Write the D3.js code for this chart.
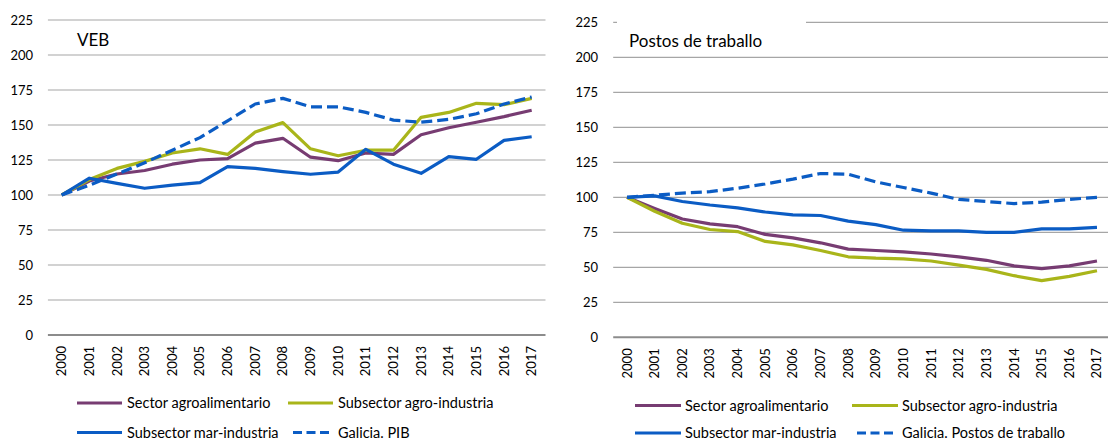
<!DOCTYPE html>
<html><head><meta charset="utf-8">
<script src="https://cdn.jsdelivr.net/npm/d3@7"></script>
<style>
html,body{margin:0;padding:0;background:#fff;}
svg{display:block;font-family:Lato,"Liberation Sans",sans-serif;}
</style></head>
<body><svg id="c" width="1108" height="441"></svg>
<script>
const years = ["2000","2001","2002","2003","2004","2005","2006","2007","2008","2009","2010","2011","2012","2013","2014","2015","2016","2017"];
const yTicks = [0,25,50,75,100,125,150,175,200,225];

// VEB
const vebSector   = [100,110,115,117.5,122,125,126,137,140.5,127,124.5,130,129,143,148,152,156,160.5];
const vebAgro     = [100,111,119,124,130,133,129,145,151.7,133,128,132,132,155.5,159,165.5,164.5,169];
const vebMar      = [100,112,108.3,104.8,107,108.8,120.2,119,116.7,114.8,116.4,132.6,122,115.5,127.4,125.5,139,141.6];
const vebGalicia  = [100,107,115,123,132,141,153,165,169,163,163,159,153.5,152,154,158,165,170];

// Postos de traballo
const posSector   = [100,92,84.5,81,79,73.5,71,67.5,63,62,61,59.5,57.5,55,51,49,51,54.5];
const posAgro     = [100,90,81.5,77,75.5,68.5,66,62,57.5,56.5,56,54.5,51.5,48.5,44,40.5,43.5,47.5];
const posMar      = [100,101,97,94.5,92.5,89.5,87.5,87,83,80.5,76.5,76,76,75,75,77.5,77.5,78.5];
const posGalicia  = [100,101.5,103,104,106.5,109.5,113,117,116.5,111,107,103,98.5,97,95.5,96.5,98.5,100];

const titles = ["VEB","Postos de traballo"];
const legendLeft  = ["Sector agroalimentario","Subsector agro-industria","Subsector mar-industria","Galicia. PIB"];
const legendRight = ["Sector agroalimentario","Subsector agro-industria","Subsector mar-industria","Galicia. Postos de traballo"];

const colors = ["#773C72","#A9B51A","#0B5CC4","#0B5CC4"];
const dashed = [false,false,false,true];

const svg = d3.select("#c");

function panel(cfg){
  const g = svg.append("g");
  const x = d3.scaleBand().domain(years).range([cfg.x0,cfg.x1]);
  const y = d3.scaleLinear().domain([0,225]).range([cfg.yb,cfg.yt]);
  const gx0 = cfg.x0, gx1 = Math.min(cfg.x1,1108);
  // gridlines
  g.selectAll("line.grid").data(yTicks.filter(d=>d>0)).enter().append("line")
    .attr("x1",gx0).attr("x2",gx1).attr("y1",d=>y(d)).attr("y2",d=>y(d))
    .attr("stroke","#A6A6A6").attr("stroke-width",1.2);
  // zero axis line
  g.append("line").attr("x1",gx0).attr("x2",gx1).attr("y1",y(0)).attr("y2",y(0))
    .attr("stroke","#8C8C8C").attr("stroke-width",2);
  // y labels
  g.selectAll("text.yl").data(yTicks).enter().append("text")
    .attr("x",cfg.ylx).attr("y",d=>y(d)).attr("dy","0.35em")
    .attr("text-anchor","end").attr("font-size",13).attr("fill","#000")
    .text(d=>d);
  // x labels
  g.selectAll("text.xl").data(years).enter().append("text")
    .attr("transform",d=>`translate(${x(d)+x.bandwidth()/2+4.5},${cfg.yb+11}) rotate(-90)`)
    .attr("text-anchor","end").attr("font-size",13).attr("fill","#000")
    .text(d=>d);
  // title box
  if(cfg.box){
    g.append("rect").attr("x",cfg.box[0]).attr("y",cfg.box[1]).attr("width",cfg.box[2]).attr("height",cfg.box[3]).attr("fill","#fff");
  }
  g.append("text").attr("x",cfg.tx).attr("y",cfg.ty).attr("font-size",17).attr("fill","#000").text(cfg.title);
  // lines
  const line = d3.line().x((d,i)=>x(years[i])+x.bandwidth()/2).y(d=>y(d));
  cfg.series.forEach((s,k)=>{
    g.append("path").datum(s).attr("d",line).attr("fill","none")
      .attr("stroke",colors[k]).attr("stroke-width",3.2)
      .attr("stroke-linejoin","round")
      .attr("stroke-dasharray",dashed[k]?"11,5":null);
  });
  // legend
  const L = cfg.leg;
  const pos = [[L.c1,L.r1],[L.c2,L.r1],[L.c1,L.r2],[L.c2,L.r2]];
  cfg.labels.forEach((t,k)=>{
    const [lx,ly] = pos[k];
    if(dashed[k]){
      g.append("line").attr("x1",lx+5).attr("x2",lx+L.len-3).attr("y1",ly).attr("y2",ly)
        .attr("stroke",colors[k]).attr("stroke-width",3.2).attr("stroke-dasharray","9,4.5");
    } else {
      g.append("line").attr("x1",lx).attr("x2",lx+L.len).attr("y1",ly).attr("y2",ly)
        .attr("stroke",colors[k]).attr("stroke-width",3.2);
    }
    g.append("text").attr("x",lx+L.len+L.gap).attr("y",ly).attr("dy","0.35em")
      .attr("font-size",14.5).attr("fill","#000").text(t);
  });
}

panel({x0:47.9,x1:545.5,yb:335,yt:20,ylx:33,tx:77,ty:46,title:titles[0],
  series:[vebSector,vebAgro,vebMar,vebGalicia],labels:legendLeft,
  leg:{c1:77,c2:288,r1:403,r2:432.5,len:45,gap:5}});
panel({x0:613.2,x1:1110.8,yb:337.3,yt:22.3,ylx:598,tx:629,ty:47,title:titles[1],
  box:[617,12,189,40],
  series:[posSector,posAgro,posMar,posGalicia],labels:legendRight,
  leg:{c1:635,c2:852,r1:405.5,r2:433,len:46,gap:4}});
</script>
</body></html>
